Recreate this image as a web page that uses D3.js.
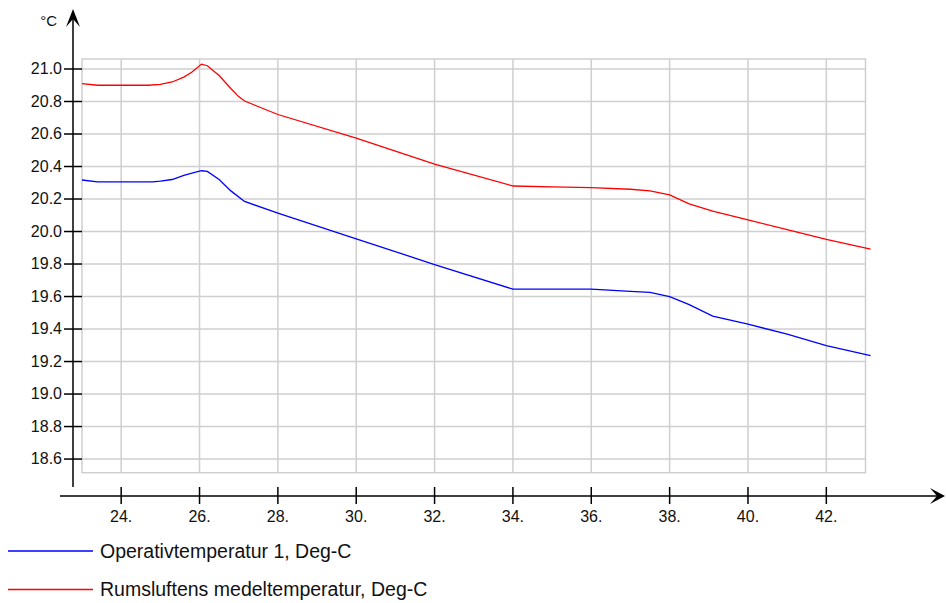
<!DOCTYPE html>
<html>
<head>
<meta charset="utf-8">
<script src="https://cdn.jsdelivr.net/npm/d3@7"></script>
<style>
  body { margin: 0; background: #fff; }
  svg { display: block; font-family: "Liberation Sans", Arial, sans-serif; }
</style>
</head>
<body>
<svg id="chart" width="946" height="603"></svg>
<script>
// ---- data ----
const xTicks = [24, 26, 28, 30, 32, 34, 36, 38, 40, 42];
const xTickLabels = ["24.", "26.", "28.", "30.", "32.", "34.", "36.", "38.", "40.", "42."];
const yTicks = [18.6, 18.8, 19.0, 19.2, 19.4, 19.6, 19.8, 20.0, 20.2, 20.4, 20.6, 20.8, 21.0];
const yTickLabels = ["18.6", "18.8", "19.0", "19.2", "19.4", "19.6", "19.8", "20.0", "20.2", "20.4", "20.6", "20.8", "21.0"];
const yUnit = "°C";

const opDays  = [23.0, 23.4, 24.0, 24.8, 25.0, 25.3, 25.6, 25.9, 26.05, 26.2, 26.5, 26.8, 27.15, 28.0, 30.0, 32.0, 34.0, 35.0, 36.0, 37.0, 37.5, 38.0, 38.5, 39.1, 40.0, 41.0, 42.0, 43.13];
const opTemp  = [20.317, 20.306, 20.306, 20.306, 20.31, 20.32, 20.345, 20.365, 20.374, 20.37, 20.32, 20.25, 20.185, 20.113, 19.955, 19.797, 19.645, 19.645, 19.645, 19.632, 19.625, 19.6, 19.55, 19.48, 19.43, 19.368, 19.298, 19.236];

const airDays = [23.0, 23.4, 24.0, 24.7, 25.0, 25.3, 25.6, 25.8, 26.05, 26.2, 26.5, 26.8, 27.0, 27.15, 28.0, 30.0, 32.0, 34.0, 35.0, 36.0, 37.0, 37.5, 38.0, 38.5, 39.1, 40.0, 41.0, 42.0, 43.13];
const airTemp = [20.91, 20.90, 20.90, 20.90, 20.905, 20.92, 20.95, 20.98, 21.03, 21.02, 20.96, 20.88, 20.83, 20.803, 20.72, 20.574, 20.415, 20.28, 20.275, 20.27, 20.26, 20.25, 20.225, 20.17, 20.125, 20.072, 20.012, 19.952, 19.892];

const seriesNames = ["Operativtemperatur 1, Deg-C", "Rumsluftens medeltemperatur, Deg-C"];
const seriesColors = ["#0000ff", "#ff0000"];

// ---- layout ----
const svg = d3.select("#chart");
const frame = { left: 82, right: 865.5, top: 59, bottom: 472.7 };
const x = d3.scaleLinear().domain([23, 43]).range([frame.left, frame.right]);
const y = d3.scaleLinear().domain([18.516, 21.0615]).range([frame.bottom, frame.top]);
const axisX = 73, axisY = 496;

// grid
const grid = svg.append("g").attr("stroke", "#cfcfcf").attr("stroke-width", 1.5);
grid.selectAll("line.v").data(xTicks).join("line")
  .attr("x1", d => x(d)).attr("x2", d => x(d))
  .attr("y1", frame.top).attr("y2", frame.bottom);
grid.selectAll("line.h").data(yTicks).join("line")
  .attr("y1", d => y(d)).attr("y2", d => y(d))
  .attr("x1", frame.left).attr("x2", frame.right);
svg.append("rect")
  .attr("x", frame.left).attr("y", frame.top)
  .attr("width", frame.right - frame.left).attr("height", frame.bottom - frame.top)
  .attr("fill", "none").attr("stroke", "#cfcfcf").attr("stroke-width", 1.5);

// y axis
const yAx = svg.append("g");
yAx.append("line").attr("x1", axisX).attr("x2", axisX).attr("y1", 16).attr("y2", 487)
  .attr("stroke", "#000").attr("stroke-width", 1.5);
yAx.append("path").attr("d", `M${axisX},9 L${axisX - 7},27 L${axisX},19 L${axisX + 7},27 Z`).attr("fill", "#000");
yAx.selectAll("line.t").data(yTicks).join("line")
  .attr("x1", axisX - 9).attr("x2", axisX + 9)
  .attr("y1", d => y(d)).attr("y2", d => y(d))
  .attr("stroke", "#000").attr("stroke-width", 1.5);
yAx.selectAll("text").data(yTicks).join("text")
  .attr("x", 62).attr("y", d => y(d)).attr("dy", "0.34em")
  .attr("text-anchor", "end").attr("font-size", 16).attr("fill", "#111")
  .text((d, i) => yTickLabels[i]);
svg.append("text").attr("x", 57).attr("y", 26).attr("text-anchor", "end")
  .attr("font-size", 15).attr("fill", "#111").text(yUnit);

// x axis
const xAx = svg.append("g");
xAx.append("line").attr("x1", 60).attr("x2", 938).attr("y1", axisY).attr("y2", axisY)
  .attr("stroke", "#000").attr("stroke-width", 1.5);
xAx.append("path").attr("d", `M945,${axisY} L930,${axisY - 8} L937,${axisY} L930,${axisY + 8} Z`).attr("fill", "#000");
xAx.selectAll("line.t").data(xTicks).join("line")
  .attr("x1", d => x(d)).attr("x2", d => x(d))
  .attr("y1", 487).attr("y2", 504)
  .attr("stroke", "#000").attr("stroke-width", 1.5);
xAx.selectAll("text").data(xTicks).join("text")
  .attr("x", d => x(d)).attr("y", 521.5)
  .attr("text-anchor", "middle").attr("font-size", 16).attr("fill", "#111")
  .text((d, i) => xTickLabels[i]);

// lines
const line = d3.line().x(d => x(d[0])).y(d => y(d[1]));
const series = [d3.zip(opDays, opTemp), d3.zip(airDays, airTemp)];
svg.selectAll("path.s").data(series).join("path")
  .attr("fill", "none").attr("stroke", (d, i) => seriesColors[i]).attr("stroke-width", 1.3)
  .attr("d", line);

// legend
const legY = [551, 589.5];
const leg = svg.append("g");
seriesNames.forEach((name, i) => {
  leg.append("line").attr("x1", 8).attr("x2", 93).attr("y1", legY[i]).attr("y2", legY[i])
    .attr("stroke", seriesColors[i]).attr("stroke-width", 1.5);
  leg.append("text").attr("x", 100).attr("y", legY[i]).attr("dy", "0.35em")
    .attr("font-size", 19.5).attr("fill", "#111").text(name);
});
</script>
</body>
</html>
